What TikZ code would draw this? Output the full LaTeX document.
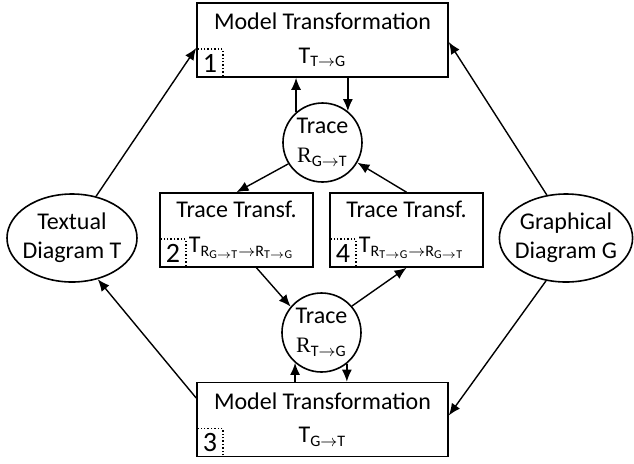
\documentclass[tikz,border=0pt]{standalone}
\usepackage{fontspec}
\setmainfont{Carlito}
\newfontfamily\serifR{Liberation Serif}
\usepackage{tikz}
\usetikzlibrary{arrows.meta, shapes.geometric, calc}

% subscript of the form A->B
\newcommand{\subarr}[2]{\textsubscript{#1$\rightarrow$#2}}

\begin{document}
\begin{tikzpicture}[x=0.5pt, y=-0.5pt,
        every node/.style={font=\fontsize{12}{14.4}\selectfont},
        mtbox/.style={draw, line width=0.8pt, minimum width=125.5pt,
                      minimum height=37pt, inner sep=0pt, align=center},
        ttbox/.style={draw, line width=0.8pt, minimum width=76.5pt,
                      minimum height=37pt, inner sep=0pt, align=center},
        tracecirc/.style={draw, circle, line width=0.8pt, minimum size=39.5pt,
                      inner sep=0pt, align=center},
        diagell/.style={draw, ellipse, line width=0.8pt, minimum width=65pt,
                      minimum height=44pt, inner sep=-2pt, align=center},
        numbox/.style={draw, densely dotted, line width=0.7pt, minimum width=13pt,
                      minimum height=14pt, inner sep=0pt, anchor=south west,
                      font=\fontsize{14}{16}\selectfont},
        arr/.style={-{Latex[length=6pt, width=5pt]}, line width=0.7pt}]
        \useasboundingbox (0,0) rectangle (634,463);

        % transformations
        \node[mtbox] (mtTop) at (322.5,40)
              {Model Transformation\\[2.5pt] T\subarr{T}{G}};
        \node[mtbox] (mtBot) at (322.5,419.5)
              {Model Transformation\\[2.5pt] T\subarr{G}{T}};
        \node[ttbox] (tt2) at (236.5,230)
              {Trace Transf.\\[3pt]
               \hspace*{5pt}T\textsubscript{R\subarr{G}{T}$\rightarrow$R\subarr{T}{G}}};
        \node[ttbox] (tt4) at (406.5,230)
              {Trace Transf.\\[3pt]
               \hspace*{5pt}T\textsubscript{R\subarr{T}{G}$\rightarrow$R\subarr{G}{T}}};

        % step numbers
        \node[numbox] (n1) at (mtTop.south west) {1};
        \node[numbox] (n2) at (tt2.south west) {2};
        \node[numbox] (n3) at (mtBot.south west) {3};
        \node[numbox] (n4) at (tt4.south west) {4};

        % traces and diagrams
        \node[tracecirc] (trTop) at (322.5,142.5)
              {Trace\\{\serifR\fontsize{11}{13}\selectfont R}\subarr{G}{T}};
        \node[tracecirc] (trBot) at (321.5,332.5)
              {Trace\\{\serifR\fontsize{11}{13}\selectfont R}\subarr{T}{G}};
        \node[diagell] (tdT) at (72,238) {Textual\\Diagram T};
        \node[diagell] (gdG) at (566,238) {Graphical\\Diagram G};

        \draw[arr] (tdT.60) -- ([yshift=-4pt]mtTop.west);
        \draw[arr] ([yshift=10.75pt]mtBot.west) -- (tdT.-58);
        \draw[arr] (gdG.114) -- ([yshift=-1pt]mtTop.east);
        \draw[arr] (gdG.-115) -- ([yshift=2pt]mtBot.east);

        \draw[arr] (trTop.131) -- (trTop.131 |- mtTop.south);
        \draw[arr] (mtTop.south -| trTop.51) -- (trTop.51);
        \draw[arr] (trTop.212) -- (tt2.north);
        \draw[arr] (tt4.north) -- (trTop.-30);

        \draw[arr] ([xshift=10pt]tt2.south) -- (trBot.140);
        \draw[arr] (trBot.41) -- (tt4.south);
        \draw[arr] (mtBot.north -| trBot.229) -- (trBot.229);
        \draw[arr] (trBot.-51) -- (trBot.-51 |- mtBot.north);
\end{tikzpicture}
\end{document}
